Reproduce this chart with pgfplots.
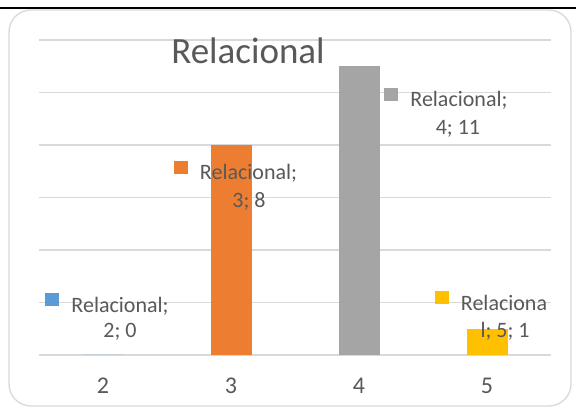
\documentclass[border=0pt]{standalone}
\usepackage{fontspec}
\setmainfont{Carlito}
\usepackage{pgfplots}
\pgfplotsset{compat=1.18}
\definecolor{cblue}{HTML}{5B9BD5}
\definecolor{corange}{HTML}{ED7D31}
\definecolor{cgray}{HTML}{A5A5A5}
\definecolor{cgold}{HTML}{FFC000}
\definecolor{txt}{HTML}{595959}
\definecolor{gridc}{HTML}{D9D9D9}
\newcommand{\key}[1]{\llap{\textcolor{#1}{\raisebox{6bp}{\rule{14bp}{13bp}}}\hspace{12bp}}}
\tikzset{lbl/.style={anchor=base, inner sep=0pt, text=txt, font=\fontsize{22bp}{26bp}\selectfont}}
\begin{document}
\begin{tikzpicture}
\path[use as bounding box] (0,0) rectangle (576bp,410bp);
\fill[white] (0,0) rectangle (576bp,410bp);
\draw[black, line width=2bp] (0,402bp) -- (576bp,402bp);
\draw[gridc, line width=1.3bp, rounded corners=22bp] (9bp,4bp) rectangle (571bp,400bp);
\begin{axis}[
  at={(39bp,55bp)}, anchor=south west,
  scale only axis, width=512bp, height=315bp,
  xmin=-0.5, xmax=3.5, ymin=0, ymax=12,
  ybar, bar width=41bp,
  xtick={0,1,2,3}, xticklabels={2,3,4,5},
  ytick={0,2,...,12}, yticklabels={},
  ymajorgrids, grid style={gridc, line width=1.5bp},
  axis line style={draw=none},
  major tick length=0pt,
  clip=false,
  ticklabel style={font=\fontsize{24bp}{28bp}\selectfont, text=txt},
  xticklabel style={anchor=base, yshift=-39bp},
  /pgf/number format/assume math mode=true,
]
\addplot[fill=cblue, draw=none, bar shift=0pt] coordinates {(0,0)};
\addplot[fill=corange, draw=none, bar shift=0pt] coordinates {(1,8)};
\addplot[fill=cgray, draw=none, bar shift=0pt] coordinates {(2,11)};
\addplot[fill=cgold, draw=none, bar shift=0pt] coordinates {(3,1)};

\node[anchor=base, inner sep=0pt, text=txt, font=\fontsize{37bp}{44bp}\selectfont] at (axis cs:1.133,11.086) {Relacional};

\node[lbl] at (axis cs:0.133,1.638) {\key{cblue}Relacional;};
\node[lbl] at (axis cs:0.133,0.648) {2; 0};
\node[lbl] at (axis cs:1.137,6.667) {\key{corange}Relacional;};
\node[lbl] at (axis cs:1.141,5.6) {3; 8};
\node[lbl] at (axis cs:2.781,9.448) {\key{cgray}Relacional;};
\node[lbl] at (axis cs:2.773,8.381) {4; 11};
\node[lbl] at (axis cs:3.133,1.714) {\key{cgold}Relaciona};
\node[lbl] at (axis cs:3.141,0.648) {l; 5; 1};
\end{axis}
\end{tikzpicture}
\end{document}
